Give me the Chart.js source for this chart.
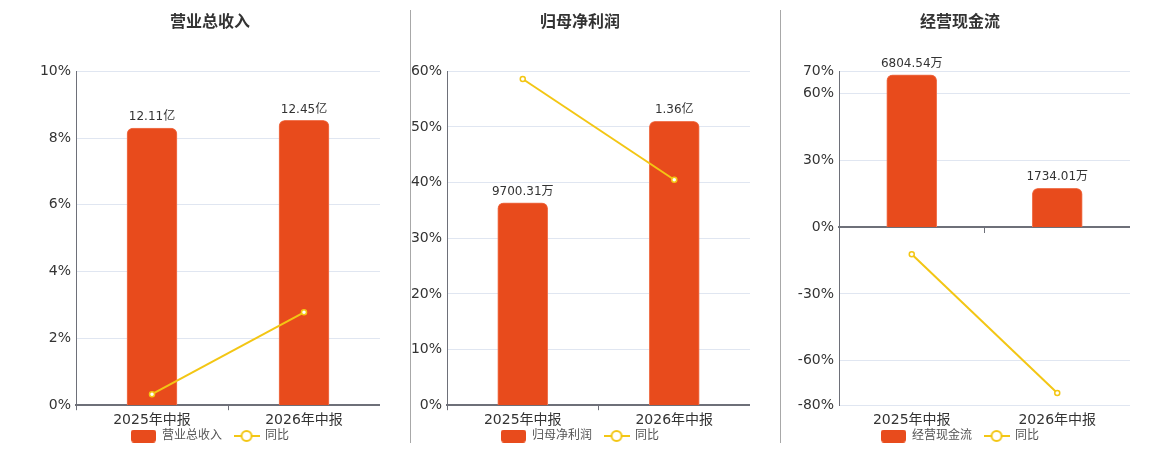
<!DOCTYPE html>
<html>
<head>
<meta charset="utf-8">
<script src="https://cdn.jsdelivr.net/npm/chart.js@4/dist/chart.umd.min.js"></script>
<style>
  html, body { margin: 0; padding: 0; background: #fff; }
  #wrap { position: relative; width: 1160px; height: 450px; overflow: hidden; }
  .panel { position: absolute; top: 0; width: 340px; height: 450px; }
  .sep { position: absolute; top: 10px; width: 1px; height: 433px; background: #a8a8a8; }
</style>
</head>
<body>
<div id="wrap">
  <div class="panel" style="left:40px"><canvas id="c1"></canvas></div>
  <div class="panel" style="left:410px"><canvas id="c2"></canvas></div>
  <div class="panel" style="left:790px"><canvas id="c3"></canvas></div>
  <div class="sep" style="left:410px"></div>
  <div class="sep" style="left:780px"></div>
</div>
<script>
// ---- data ----
const categories = ['2025年中报', '2026年中报'];

const revenueTitle = '营业总收入';
const revenue = [12.11, 12.45];            // 亿
const revenueText = ['12.11亿', '12.45亿'];
const revenueYoY = [0.33, 2.78];           // %
const revenueTicks = [0, 2, 4, 6, 8, 10];

const profitTitle = '归母净利润';
const profit = [0.970031, 1.36];           // 亿
const profitText = ['9700.31万', '1.36亿'];
const profitYoY = [58.6, 40.5];            // %
const profitTicks = [0, 10, 20, 30, 40, 50, 60];

const cashTitle = '经营现金流';
const cashFlow = [6804.54, 1734.01];       // 万
const cashFlowText = ['6804.54万', '1734.01万'];
const cashFlowYoY = [-12.2, -74.52];       // %
const cashFlowTicks = [-80, -60, -30, 0, 30, 60, 70];

const yoyLabel = '同比';

// ---- styles ----
const BAR = '#E84B1C';
const BAR_EDGE = '#F07652';
const LINE = '#F3C614';
const AXIS = '#6E7079';
const GRID = '#E0E6F1';
const FONT = "'DejaVu Sans', 'Noto Sans CJK SC', sans-serif";

function barIcon() {
  const c = document.createElement('canvas');
  c.width = 25; c.height = 13;
  const g = c.getContext('2d');
  g.fillStyle = BAR;
  g.beginPath();
  g.roundRect(0, 0, 25, 13, 3);
  g.fill();
  return c;
}
function lineIcon() {
  const c = document.createElement('canvas');
  c.width = 26; c.height = 14;
  const g = c.getContext('2d');
  g.strokeStyle = LINE;
  g.lineWidth = 2;
  g.beginPath(); g.moveTo(0, 7); g.lineTo(26, 7); g.stroke();
  g.beginPath(); g.arc(13, 7, 5, 0, Math.PI * 2);
  g.fillStyle = '#fff'; g.fill(); g.stroke();
  return c;
}
const ICONS = [barIcon(), lineIcon()];

const barLabelPlugin = {
  id: 'barLabels',
  afterDatasetsDraw(chart, args, opts) {
    const meta = chart.getDatasetMeta(0);
    const ctx = chart.ctx;
    ctx.save();
    ctx.font = '12px ' + FONT;
    ctx.fillStyle = '#333';
    ctx.textAlign = 'center';
    ctx.textBaseline = 'middle';
    meta.data.forEach((el, i) => {
      ctx.fillText(opts.texts[i], el.x, el.y - 11);
    });
    ctx.restore();
  }
};

// pull the legend row up closer to the axis labels
const legendShiftPlugin = {
  id: 'legendShift',
  afterLayout(chart, args, opts) {
    const lg = chart.legend;
    if (lg) { lg.top += opts.shift; lg.bottom += opts.shift; }
  }
};

function makeChart(id, cfg) {
  const split = cfg.split; // x axis line at zero in the middle
  const scales = {
    x: {
      type: 'category',
      offset: true,
      grid: {
        display: !split, offset: true, drawOnChartArea: false, drawTicks: true,
        tickLength: 5, color: AXIS
      },
      border: split ? { display: false } : { display: true, color: AXIS, width: 2 },
      ticks: { color: '#333', font: { size: 14, family: FONT }, padding: 2, maxRotation: 0 }
    },
    y: {
      position: 'left',
      min: cfg.ticks[0],
      max: cfg.ticks[cfg.ticks.length - 1],
      afterBuildTicks(axis) { axis.ticks = cfg.ticks.map(v => ({ value: v })); },
      afterFit(axis) { axis.width = cfg.yWidth; },
      grid: { color: GRID, drawTicks: false, lineWidth: 1 },
      border: { display: true, color: AXIS, width: 1 },
      ticks: {
        color: '#333', font: { size: 14, family: FONT }, padding: 5,
        callback: v => v + '%'
      }
    },
    y1: {
      display: false,
      min: cfg.barMin,
      max: cfg.barMax
    }
  };
  if (split) {
    scales.x2 = {
      type: 'category',
      labels: categories,
      offset: true,
      position: { y: 0 },
      grid: { display: true, offset: true, drawOnChartArea: false, drawTicks: true, tickLength: 5, color: AXIS },
      border: { display: true, color: AXIS, width: 2 },
      ticks: { display: true, callback: () => '', padding: 0 }
    };
  }
  return new Chart(document.getElementById(id), {
    type: 'bar',
    data: {
      labels: categories,
      datasets: [
        {
          type: 'bar',
          label: cfg.title,
          data: cfg.bars,
          xAxisID: 'x',
          yAxisID: 'y1',
          backgroundColor: BAR,
          borderColor: BAR_EDGE,
          borderWidth: 1,
          borderSkipped: 'bottom',
          borderRadius: 6,
          barThickness: 50,
          order: 1
        },
        {
          type: 'line',
          label: yoyLabel,
          data: cfg.yoy,
          xAxisID: 'x',
          yAxisID: 'y',
          borderColor: LINE,
          borderWidth: 2,
          pointRadius: 2.5,
          pointBackgroundColor: '#fff',
          pointBorderColor: LINE,
          pointBorderWidth: 1.5,
          tension: 0,
          order: 0
        }
      ]
    },
    options: {
      responsive: true,
      maintainAspectRatio: false,
      animation: false,
      layout: { autoPadding: false, padding: { left: 0, right: 0, top: 0, bottom: -15 } },
      plugins: {
        title: {
          display: true,
          text: cfg.title,
          color: '#333',
          font: { size: 16, weight: 'bold', family: FONT },
          padding: { top: 13, bottom: 39 }
        },
        legend: {
          display: true,
          position: 'bottom',
          labels: {
            color: '#555',
            font: { size: 12, family: FONT },
            usePointStyle: true,
            pointStyleWidth: 25,
            boxHeight: 12,
            padding: 12,
            sort: (a, b) => a.datasetIndex - b.datasetIndex,
            generateLabels(chart) {
              const items = Chart.defaults.plugins.legend.labels.generateLabels(chart);
              items.forEach(it => { it.pointStyle = ICONS[it.datasetIndex]; });
              return items;
            }
          }
        },
        legendShift: { shift: -13 },
        tooltip: { enabled: false },
        barLabels: { texts: cfg.texts }
      },
      scales
    },
    plugins: [barLabelPlugin, legendShiftPlugin]
  });
}

makeChart('c1', {
  title: revenueTitle, bars: revenue, texts: revenueText, yoy: revenueYoY,
  ticks: revenueTicks, barMin: 0, barMax: 14.6, yWidth: 36, split: false
});
makeChart('c2', {
  title: profitTitle, bars: profit, texts: profitText, yoy: profitYoY,
  ticks: profitTicks, barMin: 0, barMax: 1.6, yWidth: 37, split: false
});
makeChart('c3', {
  title: cashTitle, bars: cashFlow, texts: cashFlowText, yoy: cashFlowYoY,
  ticks: cashFlowTicks, barMin: -7968, barMax: 6972, yWidth: 49, split: true
});
</script>
</body>
</html>
